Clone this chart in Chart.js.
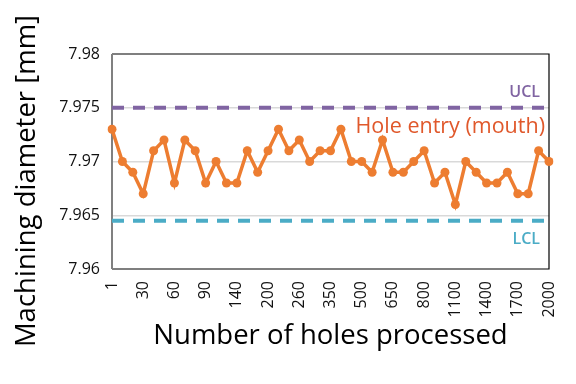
<!DOCTYPE html>
<html>
<head>
<meta charset="utf-8">
<script src="https://cdn.jsdelivr.net/npm/chart.js@4.4.0/dist/chart.umd.min.js"></script>
<style>
  html, body { margin: 0; padding: 0; background: #fff; }
  #wrap { width: 576px; height: 384px; }
</style>
</head>
<body>
<div id="wrap"><canvas id="chart"></canvas></div>
<script>
// number of holes processed (categories)
const holes = [1, 10, 20, 30, 40, 50, 60, 70, 80, 90, 100, 120, 140, 160, 180, 200, 220, 240, 260, 290,
  320, 350, 400, 450, 500, 550, 600, 650, 700, 750, 800, 900, 1000, 1100, 1200, 1300, 1400, 1500,
  1600, 1700, 1800, 1900, 2000];

// hole entry (mouth) diameter [mm]
const entryDiameter = [7.973, 7.970, 7.969, 7.967, 7.971, 7.972, 7.968, 7.972, 7.971, 7.968, 7.970,
  7.968, 7.968, 7.971, 7.969, 7.971, 7.973, 7.971, 7.972, 7.970, 7.971, 7.971, 7.973, 7.970, 7.970,
  7.969, 7.972, 7.969, 7.969, 7.970, 7.971, 7.968, 7.969, 7.966, 7.970, 7.969, 7.968, 7.968, 7.969,
  7.967, 7.967, 7.971, 7.970];

const ucl = 7.975;
const lcl = 7.9645;
const yTicks = [7.96, 7.965, 7.97, 7.975, 7.98];

const FONT = "'Open Sans', 'Noto Sans', sans-serif";

// frame, control limit labels, series label, y title
const extras = {
  id: 'extras',
  beforeDatasetsDraw(chart) {
    const { ctx, chartArea: a } = chart;
    ctx.save();
    ctx.strokeStyle = '#000';
    ctx.lineWidth = 1.2;
    ctx.beginPath();
    ctx.moveTo(a.left, a.top);
    ctx.lineTo(a.right, a.top);
    ctx.lineTo(a.right, a.bottom);
    ctx.lineTo(a.left, a.bottom);
    ctx.stroke();
    ctx.strokeStyle = '#808080';
    ctx.lineWidth = 2;
    ctx.beginPath();
    ctx.moveTo(a.left, a.top);
    ctx.lineTo(a.left, a.bottom);
    ctx.stroke();
    ctx.restore();
  },
  afterDatasetsDraw(chart) {
    const { ctx, chartArea: a, scales } = chart;
    const y = scales.y;
    ctx.save();
    ctx.textAlign = 'right';
    ctx.textBaseline = 'alphabetic';
    ctx.font = `600 16px ${FONT}`;
    ctx.fillStyle = '#8064A2';
    ctx.fillText('UCL', a.right - 9, y.getPixelForValue(ucl) - 11);
    ctx.fillStyle = '#4BACC6';
    ctx.fillText('LCL', a.right - 9, y.getPixelForValue(lcl) + 23);
    ctx.font = `21.5px ${FONT}`;
    ctx.fillStyle = '#E0582B';
    ctx.fillText('Hole entry (mouth)', a.right - 4, y.getPixelForValue(ucl) + 25);

    ctx.translate(27, 181);
    ctx.rotate(-Math.PI / 2);
    ctx.textAlign = 'center';
    ctx.textBaseline = 'middle';
    ctx.font = `27.5px ${FONT}`;
    ctx.fillStyle = '#000';
    ctx.fillText('Machining diameter [mm]', 0, 0);
    ctx.restore();
  }
};

new Chart(document.getElementById('chart'), {
  type: 'line',
  data: {
    labels: holes,
    datasets: [
      {
        label: 'Hole entry (mouth)',
        data: entryDiameter,
        borderColor: '#ED7D31',
        backgroundColor: '#ED7D31',
        borderWidth: 3.5,
        pointRadius: 4.5,
        pointBorderWidth: 0,
        tension: 0
      },
      {
        label: 'UCL',
        data: holes.map(() => ucl),
        borderColor: '#8064A2',
        borderWidth: 4,
        borderDash: [12, 9],
        pointRadius: 0
      },
      {
        label: 'LCL',
        data: holes.map(() => lcl),
        borderColor: '#4BACC6',
        borderWidth: 4,
        borderDash: [12, 9],
        pointRadius: 0
      }
    ]
  },
  options: {
    responsive: true,
    maintainAspectRatio: false,
    animation: false,
    layout: { padding: { top: 54, right: 27, left: 0, bottom: 0 } },
    plugins: {
      legend: { display: false },
      tooltip: { enabled: false }
    },
    scales: {
      x: {
        grid: { display: false },
        border: { display: false },
        ticks: {
          autoSkip: false,
          minRotation: 90,
          maxRotation: 90,
          padding: 4,
          color: '#111',
          font: { family: FONT, size: 16 },
          callback: (v, i) => (i % 3 === 0 ? holes[i] : '')
        },
        title: {
          display: true,
          text: 'Number of holes processed',
          color: '#000',
          font: { family: FONT, size: 27.5 },
          padding: { top: 0, bottom: 31 }
        },
        afterFit: (s) => { s.height = 115; }
      },
      y: {
        min: 7.96,
        max: 7.98,
        afterBuildTicks: (s) => { s.ticks = yTicks.map(v => ({ value: v })); },
        grid: {
          drawTicks: false,
          color: (c) => (c.tick && (c.tick.value === 7.96 || c.tick.value === 7.98) ? 'rgba(0,0,0,0)' : '#D9D9D9'),
          lineWidth: 1.5
        },
        border: { display: false },
        ticks: {
          padding: 12,
          color: '#111',
          font: { family: FONT, size: 16 },
          callback: (v) => String(+v.toFixed(3))
        },
        afterFit: (s) => { s.width = 112; }
      }
    }
  },
  plugins: [extras]
});
</script>
</body>
</html>
